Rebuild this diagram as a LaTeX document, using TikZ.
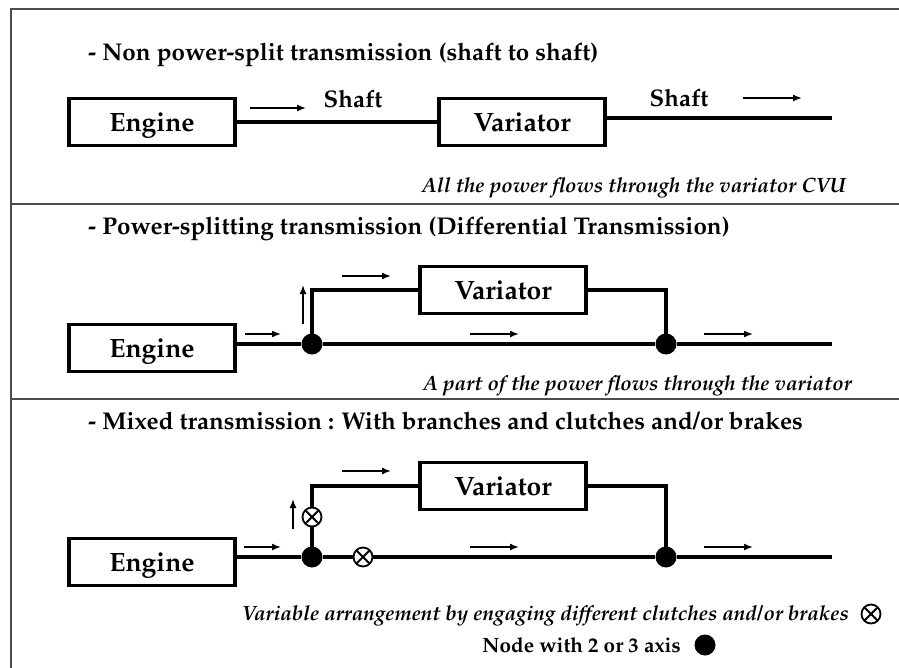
\documentclass[tikz,border=0pt]{standalone}
\usepackage[T1]{fontenc}
\usepackage{mathpazo}
\usetikzlibrary{arrows.meta}
\begin{document}
\begin{tikzpicture}[x=1pt,y=-1pt,
  unit/.style={draw, line width=3.6pt, minimum width=166pt, minimum height=47pt,
    inner sep=0pt, text depth=0pt, font=\fontsize{26.5}{28}\selectfont\bfseries},
  shaft/.style={line width=3.2pt},
  flow/.style={line width=1.5pt, -{Latex[length=9pt,width=7pt]}},
  hub/.style={circle, fill, inner sep=0pt, minimum size=21pt},
  clutch/.style={circle, draw, line width=1.8pt, fill=white, inner sep=0pt,
    minimum size=19pt,
    path picture={\draw[line width=1.8pt]
      (path picture bounding box.north west) -- (path picture bounding box.south east)
      (path picture bounding box.north east) -- (path picture bounding box.south west);}},
  heading/.style={anchor=base west, inner sep=0pt, font=\fontsize{24.2}{26}\selectfont\bfseries},
  tag/.style={inner sep=0pt, font=\fontsize{24}{26}\selectfont\bfseries},
  note/.style={anchor=base east, inner sep=0pt, font=\fontsize{20.7}{22}\selectfont\bfseries\itshape},
  frame/.style={line width=1.6pt, black!70}]

\useasboundingbox (0,0) rectangle (899,668);

% outer frame and section dividers
\draw[frame] (899,9) -- (11,9) -- (11,668);
\draw[frame] (11,204) -- (899,204);
\draw[frame] (11,399) -- (899,399);

% ---------- section 1: shaft to shaft ----------
\node[heading] (t1) at (88,61) {- Non power-split transmission (shaft to shaft)};
\node[unit] (e1) at (152,122) {Engine};
\node[unit] (v1) at (522,122) {Variator};
\coordinate (o1) at (832,118);
\draw[shaft] (e1.east) -- (v1.west);
\draw[shaft] (v1.east |- o1) -- (o1);
\coordinate (a1s) at (250,108); \coordinate (a1e) at (306,108);
\draw[flow] (a1s) -- (a1e);
\node[tag] (s1) at (353,99) {Shaft};
\node[tag] (s2) at (679,98) {Shaft};
\coordinate (a2s) at (743,98); \coordinate (a2e) at (802,98);
\draw[flow] (a2s) -- (a2e);
\node[note] (c1) at (846,193) {All the power flows through the variator CVU};

% ---------- section 2: power splitting ----------
\node[heading] (t2) at (88,235) {- Power-splitting transmission (Differential Transmission)};
\node[unit] (e2) at (152,348) {Engine};
\node[unit] (v2) at (503,290) {Variator};
\node[hub] (n2a) at (312,344) {};
\node[hub] (n2b) at (666,344) {};
\coordinate (o2) at (832,344);
\draw[shaft] (e2.east |- n2a) -- (n2a) -- (n2b) -- (o2);
\draw[shaft] (n2a.center) |- (v2.west);
\draw[shaft] (v2.east) -| (n2b.center);
\coordinate (b2s) at (245,334); \coordinate (b2e) at (281,334);
\draw[flow] (b2s) -- (b2e);
\coordinate (b2us) at (303,324); \coordinate (b2ue) at (303,285);
\draw[flow] (b2us) -- (b2ue);
\coordinate (b2ts) at (342,276); \coordinate (b2te) at (391,276);
\draw[flow] (b2ts) -- (b2te);
\coordinate (b2ms) at (470,334); \coordinate (b2me) at (519,334);
\draw[flow] (b2ms) -- (b2me);
\coordinate (b2rs) at (704,334); \coordinate (b2re) at (753,334);
\draw[flow] (b2rs) -- (b2re);
\node[note] (c2) at (852,390) {A part of the power flows through the variator};

% ---------- section 3: mixed transmission ----------
\node[heading] (t3) at (88,429) {- Mixed transmission : With branches and clutches and/or brakes};
\node[unit] (e3) at (152,562) {Engine};
\node[unit] (v3) at (503,486) {Variator};
\node[hub] (n3a) at (312,557) {};
\node[hub] (n3b) at (666,557) {};
\coordinate (o3) at (832,557);
\draw[shaft] (e3.east |- n3a) -- (n3a) -- (n3b) -- (o3);
\draw[shaft] (n3a.center) |- (v3.west);
\draw[shaft] (v3.east) -| (n3b.center);
\node[clutch] (k3a) at (312,517) {};
\node[clutch] (k3b) at (363,557) {};
\coordinate (b3s) at (244,547); \coordinate (b3e) at (281,547);
\draw[flow] (b3s) -- (b3e);
\coordinate (b3us) at (293,529); \coordinate (b3ue) at (293,499);
\draw[flow] (b3us) -- (b3ue);
\coordinate (b3ts) at (342,471); \coordinate (b3te) at (391,471);
\draw[flow] (b3ts) -- (b3te);
\coordinate (b3ms) at (470,547); \coordinate (b3me) at (519,547);
\draw[flow] (b3ms) -- (b3me);
\coordinate (b3rs) at (704,547); \coordinate (b3re) at (753,547);
\draw[flow] (b3rs) -- (b3re);

% legend
\node[note] (c3) at (849,620) {Variable arrangement by engaging different clutches and/or brakes};
\node[clutch] (k3l) at (871,614) {};
\node[anchor=base east, inner sep=0pt, font=\fontsize{20.7}{22}\selectfont\bfseries] (c4) at (681,652) {Node with 2 or 3 axis};
\node[hub] (n3l) at (705,645) {};
\end{tikzpicture}
\end{document}
